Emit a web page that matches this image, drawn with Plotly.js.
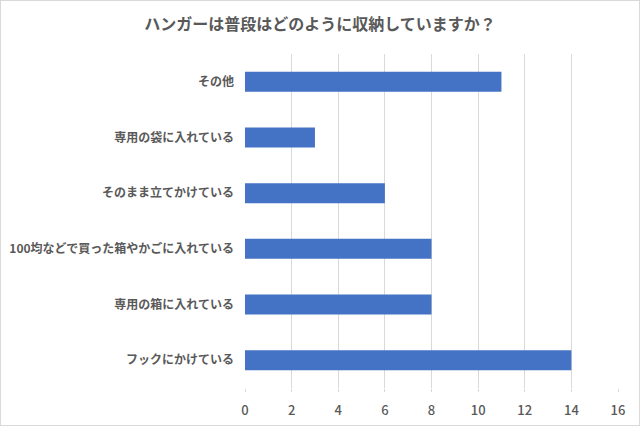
<!DOCTYPE html>
<html><head><meta charset="utf-8">
<script src="https://cdn.plot.ly/plotly-3.0.1.min.js"></script>
<style>
html,body{margin:0;padding:0;background:#fff;}
#wrap{width:640px;height:426px;box-sizing:border-box;border:1px solid #d9d9d9;overflow:hidden;}
#chart{width:638px;height:424px;}
</style></head>
<body><div id="wrap"><div id="chart"></div></div>
<script>
const categories = ["フックにかけている","専用の箱に入れている","100均などで買った箱やかごに入れている","そのまま立てかけている","専用の袋に入れている","その他"];
const values = [14, 8, 8, 6, 3, 11];
const titleText = "ハンガーは普段はどのように収納していますか？";
const xTicks = [0,2,4,6,8,10,12,14,16];

const font = '"Noto Sans CJK JP", "Noto Sans", sans-serif';
Plotly.newPlot('chart', [{
  type: 'bar', orientation: 'h',
  y: categories, x: values,
  width: 0.36,
  marker: {color: '#4472C4', line: {width: 0}},
  hoverinfo: 'none'
}], {
  width: 638, height: 424,
  margin: {l: 244, r: 21, t: 53, b: 37},
  paper_bgcolor: '#fff', plot_bgcolor: '#fff',
  title: {text: titleText, x: 0.5, xanchor: 'center', y: 0.945, yanchor: 'middle',
          font: {family: font, size: 16, color: '#595959', weight: 'bold'}},
  xaxis: {range: [0, 16], tickvals: xTicks, ticktext: xTicks.map(String),
          showgrid: true, gridcolor: '#d9d9d9', gridwidth: 1, zeroline: false,
          showline: false, ticks: 'outside', ticklen: 3, tickcolor: '#d9d9d9', tickwidth: 1,
          ticklabelstandoff: 7,
          tickfont: {family: font, size: 13, color: '#595959', weight: 500}, fixedrange: true},
  yaxis: {showgrid: false, zeroline: false, showline: false, ticks: '',
          ticklabelstandoff: 10,
          tickfont: {family: font, size: 12, color: '#595959', weight: 'bold'}},
  showlegend: false, bargap: 0.64
}, {displayModeBar: false, staticPlot: true});
</script></body></html>
